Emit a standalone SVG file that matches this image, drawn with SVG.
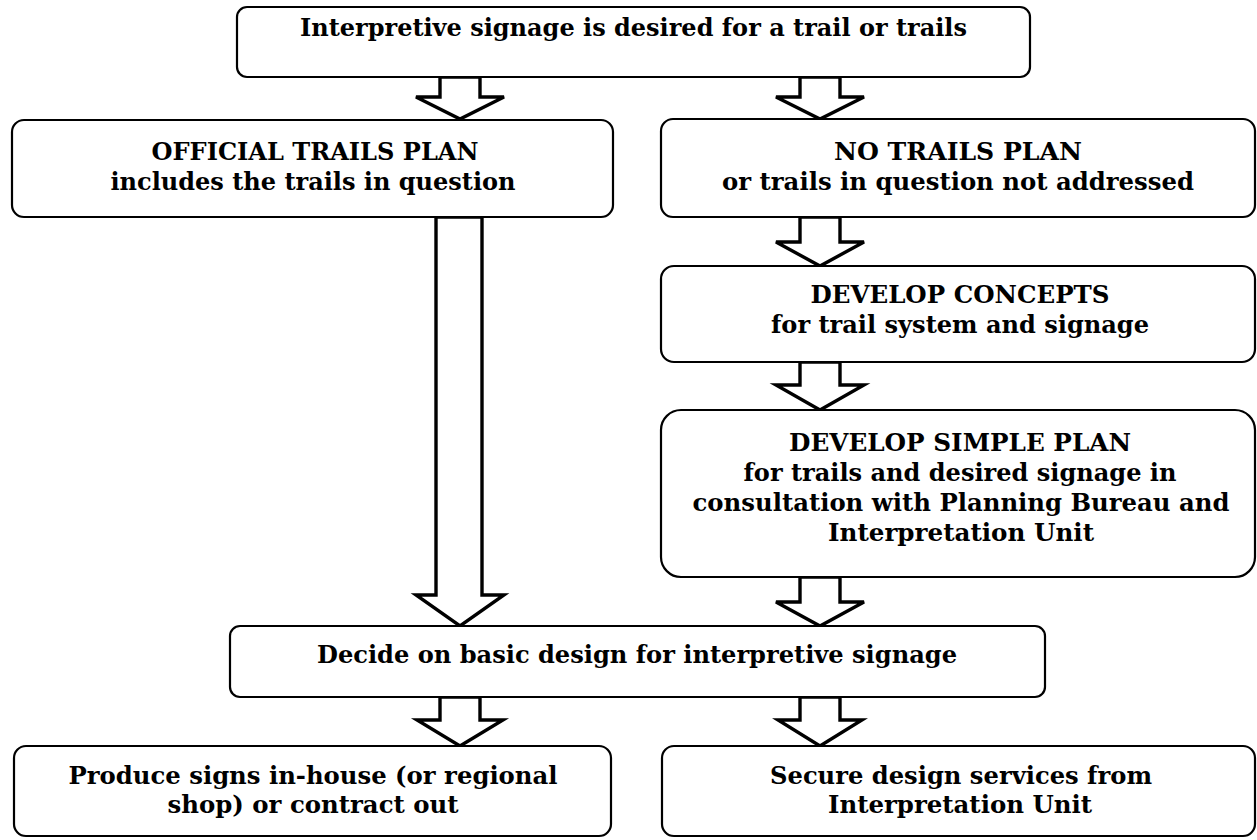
<svg xmlns="http://www.w3.org/2000/svg" width="1257" height="840" viewBox="0 0 1257 840">
<style>
.box{fill:#fff;stroke:#000;stroke-width:2.2}
.arr{fill:#fff;stroke:#000;stroke-width:3.4;stroke-linejoin:miter}
text{font-family:"DejaVu Serif","Liberation Serif",serif;font-weight:bold;font-size:25px;fill:#000;text-anchor:middle}
</style>
<rect width="1257" height="840" fill="#fff"/>
<g id="connectors">
<path class="arr" d="M440,77 V97 H416 L460,119 L504,97 H480 V77 Z"/>
<path class="arr" d="M800,77 V97 H776 L820,119 L864,97 H840 V77 Z"/>
<path class="arr" d="M436,217 V595 H416 L460,626 L504,595 H482 V217 Z"/>
<path class="arr" d="M800,217 V242 H776 L820,266 L864,242 H840 V217 Z"/>
<path class="arr" d="M800,362 V385 H776 L820,410 L864,385 H840 V362 Z"/>
<path class="arr" d="M800,577 V602 H776 L820,626 L864,602 H840 V577 Z"/>
<path class="arr" d="M440,697 V720 H417 L460,746 L503,720 H480 V697 Z"/>
<path class="arr" d="M800,697 V720 H778 L820,746 L862,720 H840 V697 Z"/>
</g>
<g id="n-top">
<rect class="box" x="237" y="7" width="793" height="70" rx="10"/>
<text x="633.5" y="36" textLength="667" lengthAdjust="spacingAndGlyphs">Interpretive signage is desired for a trail or trails</text>
</g>
<g id="n-official">
<rect class="box" x="12" y="120" width="601" height="97" rx="12"/>
<text x="315" y="160" textLength="327" lengthAdjust="spacingAndGlyphs">OFFICIAL TRAILS PLAN</text>
<text x="313" y="190" textLength="405" lengthAdjust="spacingAndGlyphs">includes the trails in question</text>
</g>
<g id="n-notrails">
<rect class="box" x="661" y="119" width="594" height="98" rx="12"/>
<text x="958" y="160" textLength="248" lengthAdjust="spacingAndGlyphs">NO TRAILS PLAN</text>
<text x="958" y="190" textLength="472" lengthAdjust="spacingAndGlyphs">or trails in question not addressed</text>
</g>
<g id="n-concepts">
<rect class="box" x="661" y="266" width="594" height="96" rx="13"/>
<text x="960" y="303" textLength="299" lengthAdjust="spacingAndGlyphs">DEVELOP CONCEPTS</text>
<text x="960" y="333" textLength="378" lengthAdjust="spacingAndGlyphs">for trail system and signage</text>
</g>
<g id="n-simple">
<rect class="box" x="661" y="410" width="594" height="167" rx="20"/>
<text x="960" y="451" textLength="342" lengthAdjust="spacingAndGlyphs">DEVELOP SIMPLE PLAN</text>
<text x="960" y="481" textLength="433" lengthAdjust="spacingAndGlyphs">for trails and desired signage in</text>
<text x="961" y="511" textLength="537" lengthAdjust="spacingAndGlyphs">consultation with Planning Bureau and</text>
<text x="961" y="541" textLength="266" lengthAdjust="spacingAndGlyphs">Interpretation Unit</text>
</g>
<g id="n-decide">
<rect class="box" x="230" y="626" width="815" height="71" rx="10"/>
<text x="637" y="663" textLength="640" lengthAdjust="spacingAndGlyphs">Decide on basic design for interpretive signage</text>
</g>
<g id="n-produce">
<rect class="box" x="14" y="746" width="597" height="90" rx="12"/>
<text x="313" y="784" textLength="489" lengthAdjust="spacingAndGlyphs">Produce signs in-house (or regional</text>
<text x="313" y="813" textLength="291" lengthAdjust="spacingAndGlyphs">shop) or contract out</text>
</g>
<g id="n-secure">
<rect class="box" x="662" y="746" width="593" height="90" rx="12"/>
<text x="961" y="784" textLength="382" lengthAdjust="spacingAndGlyphs">Secure design services from</text>
<text x="960" y="813" textLength="264" lengthAdjust="spacingAndGlyphs">Interpretation Unit</text>
</g>
</svg>
